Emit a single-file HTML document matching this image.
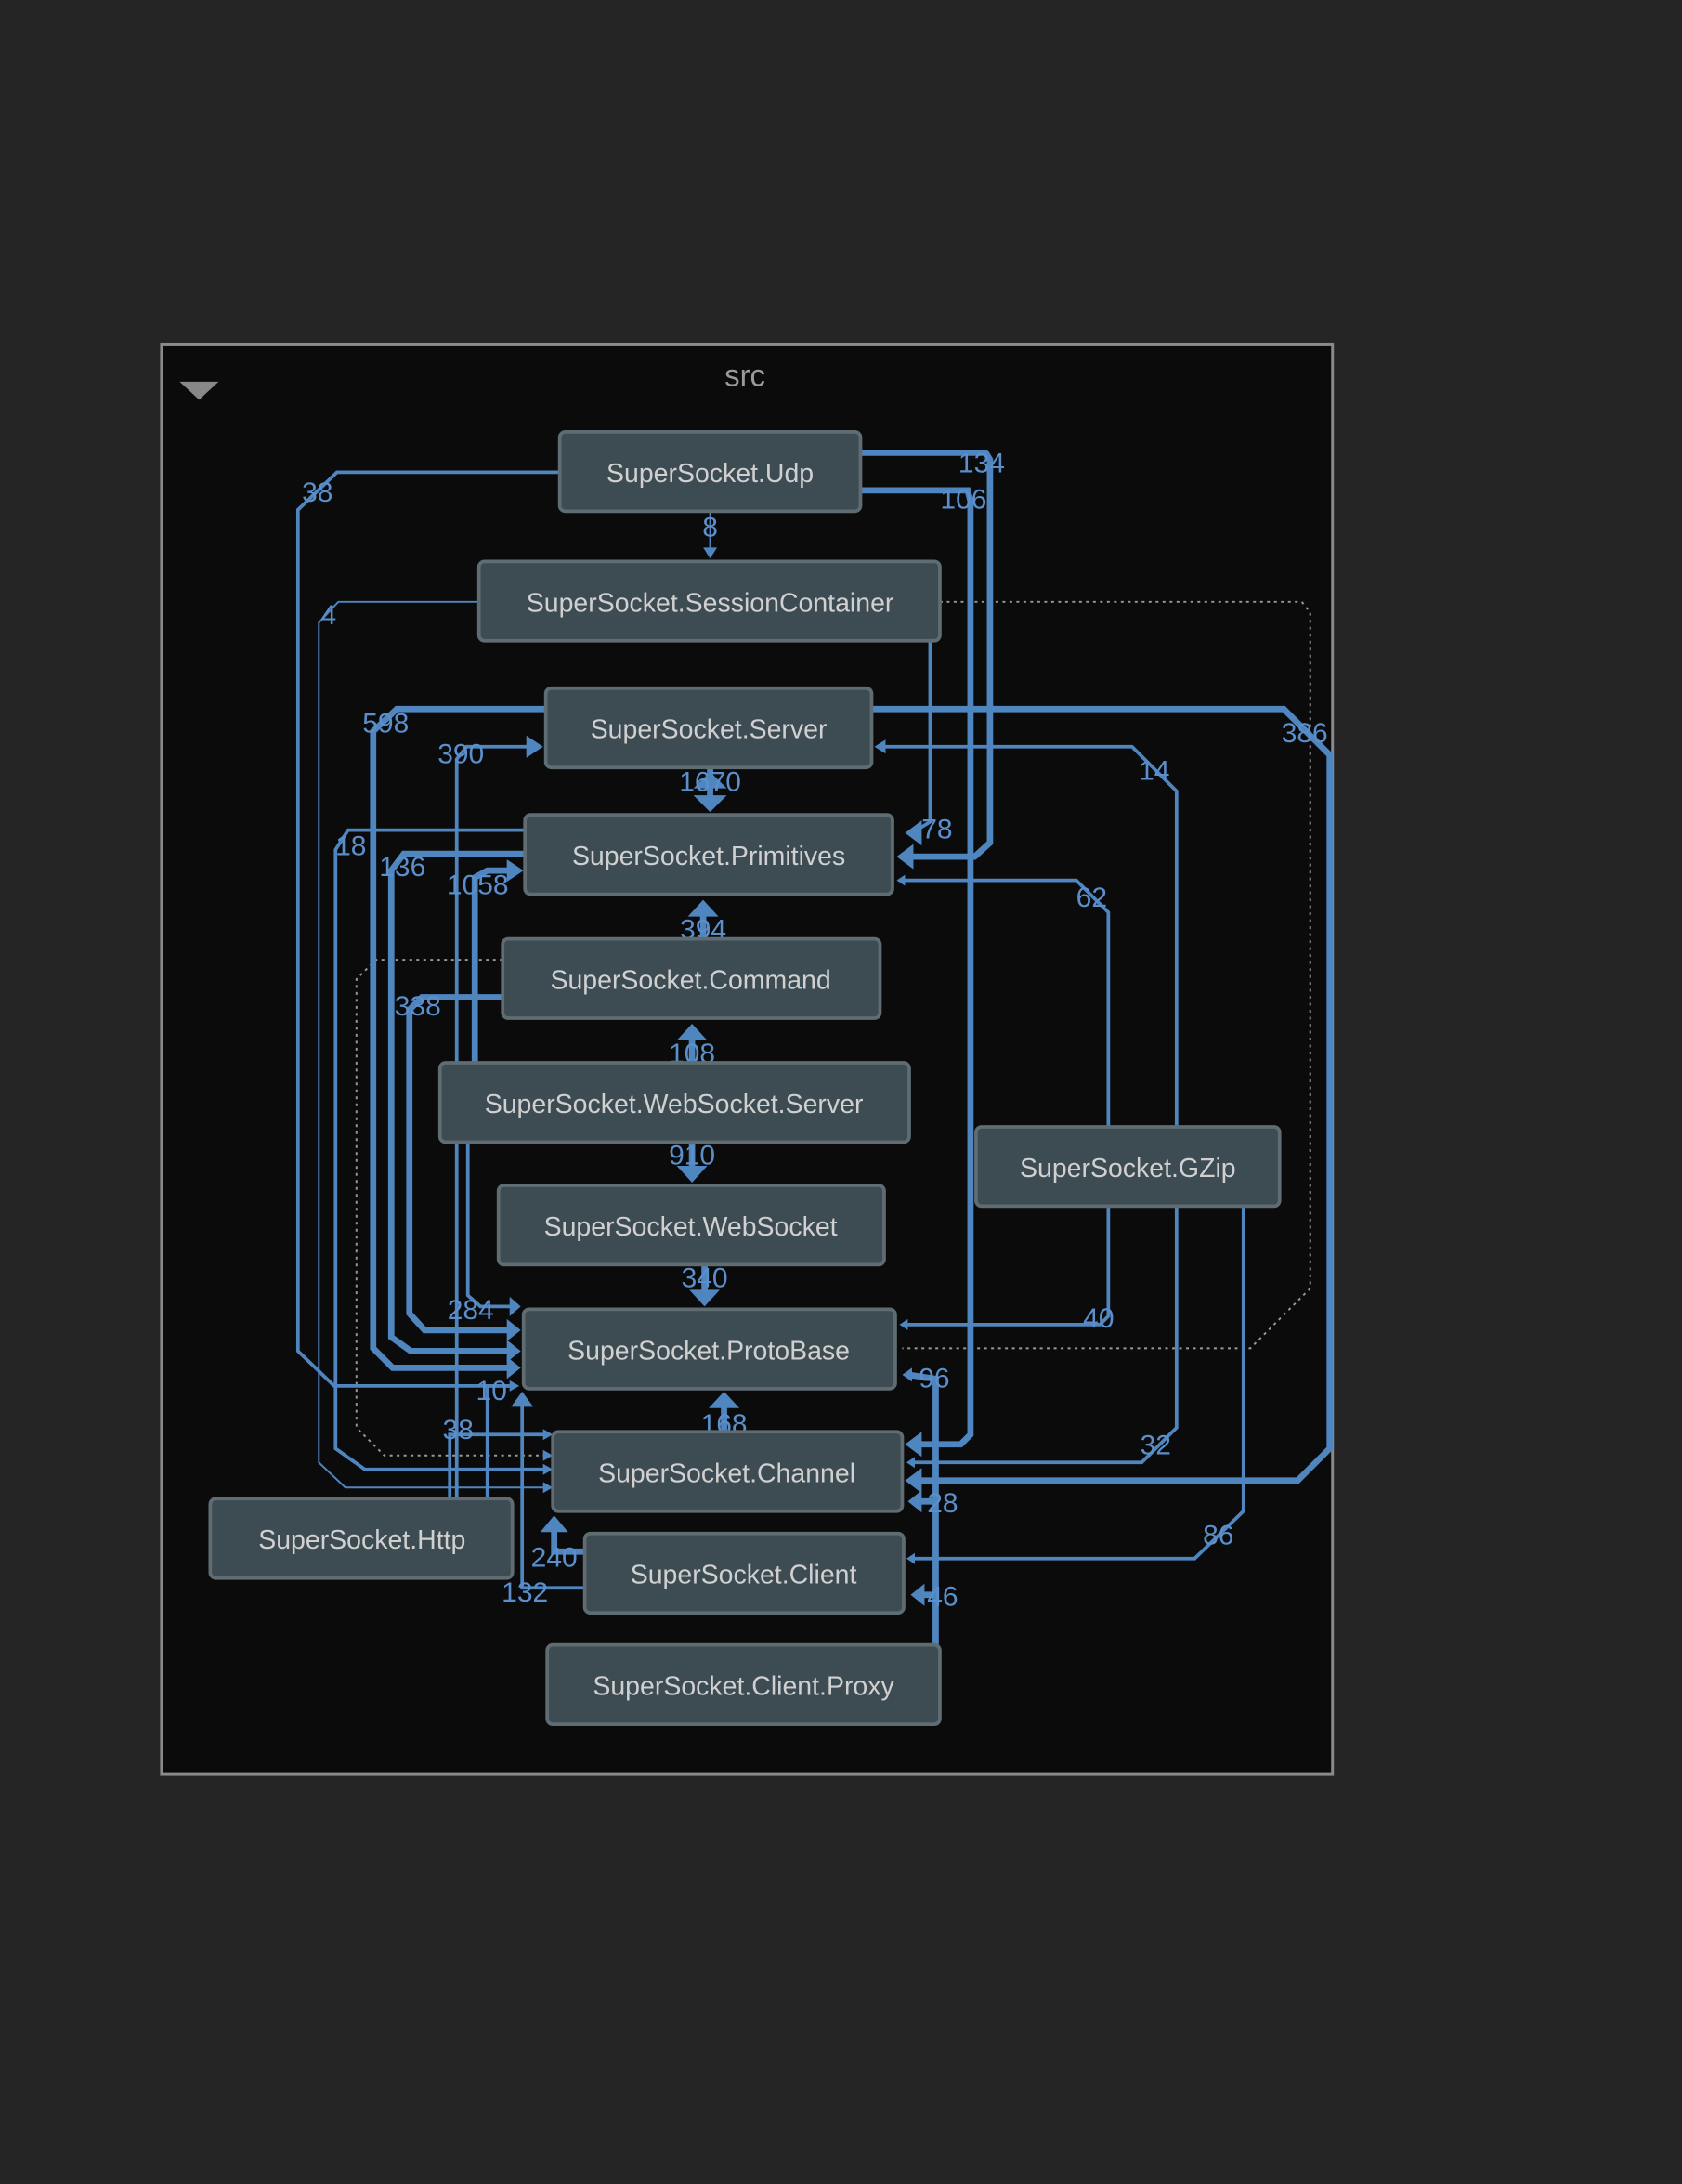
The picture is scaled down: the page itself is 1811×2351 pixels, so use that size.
<!DOCTYPE html>
<html><head><meta charset="utf-8"><style>
html,body{margin:0;padding:0;background:#252525;}
svg{display:block}
.n rect{fill:#3d4b52;stroke:#5f6c72;stroke-width:2.5}
.n text{fill:#d0d0d0;font-family:"Liberation Sans",sans-serif;font-size:19px;text-anchor:middle}
.e{fill:none;stroke:#4f86c0;stroke-width:2.5}
.t{stroke-width:4.5}
.th{stroke-width:1.3}
.d{fill:none;stroke:#999;stroke-width:1.3;stroke-dasharray:2 3}
.l{fill:#5b8fcc;font-family:"Liberation Sans",sans-serif;font-size:20px;text-anchor:middle}
.a{fill:#4f86c0}
</style></head><body>
<svg width="1811" height="2351" viewBox="0 0 1208 1568" xmlns="http://www.w3.org/2000/svg">
<rect x="0" y="0" width="1208" height="1568" fill="#252525"/>
<rect x="116" y="247" width="841" height="1027" fill="#0b0b0b" stroke="#8a8a8a" stroke-width="2"/>
<text x="535" y="277" fill="#9a9a9a" font-family="Liberation Sans,sans-serif" font-size="22" text-anchor="middle">src</text>
<polygon points="129,274 157,274 143,287" fill="#888"/>

<polyline class="d" points="675,432 935,432 941,440 941,925 898,968 648,968"/>
<polyline class="d" points="361,689 270,689 256,703 256,1025 276,1045 395,1045"/>

<polyline class="e" points="402,339 242,339 214,366 214,970 240,995 370,995"/>
<polyline class="e t" points="618,325 708,325 711,330 711,605 700,615 648,615"/>
<polyline class="e t" points="618,352 695,352 697,360 697,1030 690,1037 655,1037"/>
<polyline class="e th" points="510,367 510,396"/>
<polyline class="e th" points="344,432 243,432 229,447 229,1050 248,1068 395,1068"/>
<polyline class="e" points="668,460 668,590 655,598"/>
<polyline class="e t" points="626,509 922,509 955,542 955,1040 932,1063 655,1063"/>
<polyline class="e" points="845,809 845,568 813,536 632,536"/>
<polyline class="e t" points="510,551 510,578"/>
<polyline class="e t" points="392,509 285,509 268,525 268,968 282,982 368,982"/>
<polyline class="e" points="328,1076 328,545 335,536 384,536"/>
<polyline class="e" points="377,596 250,596 241,610 241,1040 262,1055 395,1055"/>
<polyline class="e t" points="377,613 290,613 281,625 281,960 295,970 368,970"/>
<polyline class="e t" points="341,763 341,630 350,625 370,625"/>
<polyline class="e" points="796,809 796,655 773,632 648,632"/>
<polyline class="e t" points="505,674 505,652"/>
<polyline class="e t" points="361,716 303,716 294,725 294,943 305,955 368,955"/>
<polyline class="e t" points="497,763 497,742"/>
<polyline class="e t" points="497,820 497,843"/>
<polyline class="e t" points="506,908 506,932"/>
<polyline class="e" points="336,820 336,930 345,938 368,938"/>
<polyline class="e" points="796,866 796,945 790,951 652,951"/>
<polyline class="e" points="845,866 845,1025 820,1050 655,1050"/>
<polyline class="e" points="893,866 893,1085 858,1119 655,1119"/>
<polyline class="e t" points="672,1181 672,990 652,987"/>
<polyline class="e t" points="672,1145 660,1145"/>
<polyline class="e t" points="672,1078 658,1078"/>
<polyline class="e t" points="520,1028 520,1005"/>
<polyline class="e t" points="420,1114 398,1114 398,1095"/>
<polyline class="e" points="420,1140 375,1140 375,1005"/>
<polyline class="e" points="350,1076 350,995 368,995"/>
<polyline class="e" points="323,1076 323,1030 395,1030"/>

<polygon class="a" points="510,401 505,393 515,393"/>
<polygon class="a" points="644,615 656,606 656,624"/>
<polygon class="a" points="650,1037 662,1028 662,1046"/>
<polygon class="a" points="650,598 662,589 662,607"/>
<polygon class="a" points="650,1063 662,1054 662,1072"/>
<polygon class="a" points="628,536 636,531 636,541"/>
<polygon class="a" points="510,583 498,571 522,571"/>
<polygon class="a" points="510,554 498,566 522,566"/>
<polygon class="a" points="374,982 364,974 364,990"/>
<polygon class="a" points="390,536 378,528 378,544"/>
<polygon class="a" points="376,625 364,617 364,633"/>
<polygon class="a" points="644,632 650,628 650,636"/>
<polygon class="a" points="505,646 494,658 516,658"/>
<polygon class="a" points="374,955 364,947 364,963"/>
<polygon class="a" points="374,970 364,962 364,978"/>
<polygon class="a" points="497,735 486,747 508,747"/>
<polygon class="a" points="497,849 486,837 508,837"/>
<polygon class="a" points="506,938 495,926 517,926"/>
<polygon class="a" points="374,938 366,931 366,945"/>
<polygon class="a" points="646,951 652,947 652,955"/>
<polygon class="a" points="651,1050 657,1046 657,1054"/>
<polygon class="a" points="651,1119 657,1115 657,1123"/>
<polygon class="a" points="648,987 655,982 655,992"/>
<polygon class="a" points="654,1145 664,1137 664,1153"/>
<polygon class="a" points="652,1078 662,1070 662,1086"/>
<polygon class="a" points="520,999 509,1011 531,1011"/>
<polygon class="a" points="398,1088 388,1100 408,1100"/>
<polygon class="a" points="375,999 367,1010 383,1010"/>
<polygon class="a" points="373,995 366,991 366,999"/>
<polygon class="a" points="397,1030 390,1026 390,1034"/>
<polygon class="a" points="397,1045 390,1041 390,1049"/>
<polygon class="a" points="397,1055 390,1051 390,1059"/>
<polygon class="a" points="397,1068 390,1064 390,1072"/>

<text class="l" x="228" y="360">38</text>
<text class="l" x="705" y="339">134</text>
<text class="l" x="692" y="365">106</text>
<text class="l" x="510" y="385">8</text>
<text class="l" x="236" y="448">4</text>
<text class="l" x="673" y="602">78</text>
<text class="l" x="937" y="533">386</text>
<text class="l" x="829" y="560">14</text>
<text class="l" x="510" y="568">1670</text>
<text class="l" x="277" y="526">598</text>
<text class="l" x="331" y="548">390</text>
<text class="l" x="252" y="614">18</text>
<text class="l" x="289" y="629">136</text>
<text class="l" x="343" y="642">1058</text>
<text class="l" x="784" y="651">62</text>
<text class="l" x="505" y="674">394</text>
<text class="l" x="300" y="729">338</text>
<text class="l" x="497" y="763">108</text>
<text class="l" x="497" y="836">910</text>
<text class="l" x="506" y="924">340</text>
<text class="l" x="338" y="947">284</text>
<text class="l" x="789" y="953">40</text>
<text class="l" x="671" y="996">96</text>
<text class="l" x="353" y="1005">10</text>
<text class="l" x="520" y="1029">168</text>
<text class="l" x="329" y="1033">38</text>
<text class="l" x="830" y="1044">32</text>
<text class="l" x="677" y="1086">28</text>
<text class="l" x="875" y="1109">86</text>
<text class="l" x="398" y="1125">240</text>
<text class="l" x="377" y="1150">132</text>
<text class="l" x="677" y="1153">46</text>

<g class="n"><rect x="402" y="310" width="216" height="57" rx="4"/><text x="510" y="346">SuperSocket.Udp</text></g>
<g class="n"><rect x="344" y="403" width="331" height="57" rx="4"/><text x="510" y="439">SuperSocket.SessionContainer</text></g>
<g class="n"><rect x="392" y="494" width="234" height="57" rx="4"/><text x="509" y="530">SuperSocket.Server</text></g>
<g class="n"><rect x="377" y="585" width="264" height="57" rx="4"/><text x="509" y="621">SuperSocket.Primitives</text></g>
<g class="n"><rect x="361" y="674" width="271" height="57" rx="4"/><text x="496" y="710">SuperSocket.Command</text></g>
<g class="n"><rect x="316" y="763" width="337" height="57" rx="4"/><text x="484" y="799">SuperSocket.WebSocket.Server</text></g>
<g class="n"><rect x="701" y="809" width="218" height="57" rx="4"/><text x="810" y="845">SuperSocket.GZip</text></g>
<g class="n"><rect x="358" y="851" width="277" height="57" rx="4"/><text x="496" y="887">SuperSocket.WebSocket</text></g>
<g class="n"><rect x="376" y="940" width="267" height="57" rx="4"/><text x="509" y="976">SuperSocket.ProtoBase</text></g>
<g class="n"><rect x="397" y="1028" width="251" height="57" rx="4"/><text x="522" y="1064">SuperSocket.Channel</text></g>
<g class="n"><rect x="151" y="1076" width="217" height="57" rx="4"/><text x="260" y="1112">SuperSocket.Http</text></g>
<g class="n"><rect x="420" y="1101" width="229" height="57" rx="4"/><text x="534" y="1137">SuperSocket.Client</text></g>
<g class="n"><rect x="393" y="1181" width="282" height="57" rx="4"/><text x="534" y="1217">SuperSocket.Client.Proxy</text></g>
</svg>
</body></html>
